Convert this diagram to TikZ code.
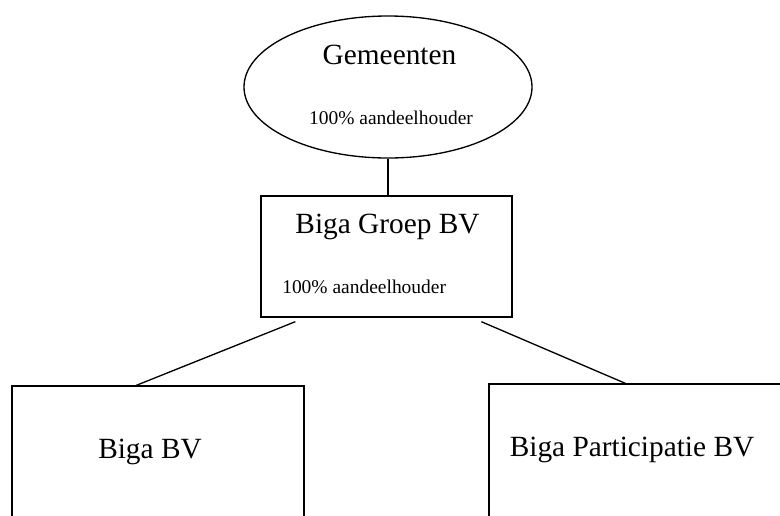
\documentclass[tikz,border=0pt]{standalone}
\usepackage{fontspec}
\setmainfont{Liberation Serif}
\usetikzlibrary{shapes.geometric,calc}
\tikzset{
  lw/.style={line width=1pt, draw=black},
  orgbox/.style={lw, rectangle, inner sep=0pt},
  big/.style={font=\fontsize{22}{26}\selectfont, anchor=base, inner sep=0pt},
  small/.style={font=\fontsize{14.6}{17}\selectfont, anchor=base, inner sep=0pt},
  link/.style={line width=1pt}
}
\begin{document}
\begin{tikzpicture}[x=0.75pt,y=-0.75pt]
\useasboundingbox (0,0) rectangle (780,515);
\clip (0,0) rectangle (780,515);
\fill[white] (0,0) rectangle (780,515);
% shapes
\node[lw, ellipse, inner sep=0pt, minimum width=216pt, minimum height=106.5pt] (gem) at (388,87) {};
\node[orgbox, minimum width=188.25pt, minimum height=90.75pt] (groep) at (386.5,256.5) {};
\node[orgbox, minimum width=219pt, minimum height=130.5pt] (bv) at (158,473) {};
\node[orgbox, minimum width=233.25pt, minimum height=132pt] (part) at (644.5,472) {};
% texts
\node[big] (tgem) at (389.5,64) {Gemeenten};
\node[small] (tgem2) at (391,124) {100\% aandeelhouder};
\node[big] (tgroep) at (387.5,233) {Biga Groep BV};
\node[small, anchor=base west] (tgroep2) at (282,293) {100\% aandeelhouder};
\node[big] (tbv) at (150,458) {Biga BV};
\node[big] (tpart) at (632,456) {Biga Participatie BV};
% connectors
\coordinate (gl) at ($(groep.south west)+(35,4)$);
\coordinate (gr) at ($(groep.south west)+(221,4)$);
\draw[link] (gem.south) -- (gem.south |- groep.north);
\draw[link] (gl) -- ($(bv.north west)+(125,0)$);
\draw[link] (gr) -- ($(part.north west)+(137,0)$);
\end{tikzpicture}
\end{document}
